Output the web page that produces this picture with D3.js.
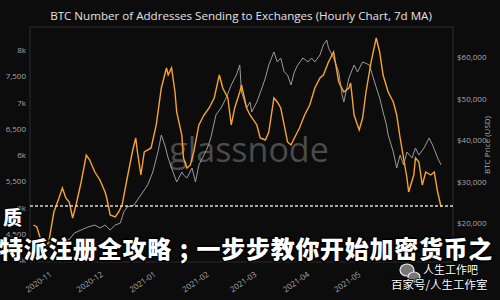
<!DOCTYPE html>
<html>
<head>
<meta charset="utf-8">
<script src="https://cdn.jsdelivr.net/npm/d3@7"></script>
<style>
  body { margin: 0; background: #0c0c0c; }
  svg { display: block; }
  .axis text { fill: #a8a8a8; font-family: "Open Sans", sans-serif; font-size: 8px; }
  .axis path, .axis line { display: none; }
</style>
</head>
<body>
<div id="chart"></div>
<script>
// addresses sending to exchanges (7d MA), left axis
const addrDates = ["2020-10-25","2020-10-27","2020-10-29","2020-11-01","2020-11-03","2020-11-06","2020-11-09","2020-11-11","2020-11-13","2020-11-15","2020-11-17","2020-11-19","2020-11-22","2020-11-25","2020-11-27","2020-11-30","2020-12-03","2020-12-06","2020-12-07","2020-12-09","2020-12-12","2020-12-14","2020-12-16","2020-12-19","2020-12-22","2020-12-24","2020-12-25","2020-12-27","2020-12-29","2021-01-02","2021-01-05","2021-01-08","2021-01-11","2021-01-12","2021-01-14","2021-01-16","2021-01-17","2021-01-20","2021-01-21","2021-01-23","2021-01-25","2021-01-27","2021-01-30","2021-02-02","2021-02-05","2021-02-08","2021-02-11","2021-02-13","2021-02-16","2021-02-18","2021-02-20","2021-02-23","2021-02-24","2021-02-27","2021-03-01","2021-03-05","2021-03-07","2021-03-10","2021-03-12","2021-03-15","2021-03-17","2021-03-19","2021-03-21","2021-03-23","2021-03-25","2021-03-27","2021-03-30","2021-04-02","2021-04-05","2021-04-08","2021-04-11","2021-04-13","2021-04-16","2021-04-19","2021-04-20","2021-04-22","2021-04-25","2021-04-28","2021-04-29","2021-05-01","2021-05-03","2021-05-04","2021-05-06","2021-05-08","2021-05-11","2021-05-14","2021-05-16","2021-05-18","2021-05-21","2021-05-24","2021-05-26","2021-05-28","2021-05-30","2021-06-01","2021-06-02","2021-06-05","2021-06-06","2021-06-08","2021-06-10","2021-06-12","2021-06-15","2021-06-17","2021-06-19","2021-06-21"];
const addrValues = [4667,4629,4419,4248,4343,4914,5181,5372,5181,5105,4800,5048,5486,6000,5905,5676,5524,5295,5181,4857,4819,4914,5048,5562,6057,6324,6057,5619,6057,6134,6572,7277,7658,7524,7658,7200,6819,6381,5943,5752,5810,6057,6572,6762,6896,7086,7524,7277,7086,6572,6896,7200,7334,6896,6762,6572,6324,6286,6438,7086,7010,6896,6572,6248,6191,6324,6515,6762,6953,7277,7467,7524,7772,7962,7772,7391,7200,7277,7372,6762,6572,6476,6705,7200,7772,8229,7962,7524,7200,7010,6762,6324,5943,5562,5295,5619,5943,5867,5429,5676,5619,5676,5295,5010];

// BTC price (USD), right axis
const priceDates = ["2020-10-23","2020-10-27","2020-11-01","2020-11-05","2020-11-08","2020-11-12","2020-11-15","2020-11-18","2020-11-22","2020-11-26","2020-11-30","2020-12-03","2020-12-06","2020-12-09","2020-12-12","2020-12-15","2020-12-17","2020-12-19","2020-12-23","2020-12-27","2020-12-31","2021-01-03","2021-01-06","2021-01-08","2021-01-10","2021-01-12","2021-01-14","2021-01-17","2021-01-20","2021-01-21","2021-01-23","2021-01-26","2021-01-28","2021-01-30","2021-02-02","2021-02-04","2021-02-06","2021-02-09","2021-02-12","2021-02-15","2021-02-18","2021-02-21","2021-02-23","2021-02-24","2021-02-27","2021-03-01","2021-03-02","2021-03-05","2021-03-08","2021-03-10","2021-03-12","2021-03-15","2021-03-17","2021-03-19","2021-03-21","2021-03-23","2021-03-25","2021-03-27","2021-03-29","2021-04-01","2021-04-04","2021-04-06","2021-04-08","2021-04-11","2021-04-13","2021-04-15","2021-04-16","2021-04-19","2021-04-22","2021-04-24","2021-04-25","2021-04-28","2021-05-01","2021-05-03","2021-05-06","2021-05-10","2021-05-13","2021-05-16","2021-05-18","2021-05-20","2021-05-21","2021-05-24","2021-05-26","2021-05-28","2021-05-30","2021-06-01","2021-06-04","2021-06-06","2021-06-08","2021-06-11","2021-06-14","2021-06-16","2021-06-19","2021-06-21"];
const priceValues = [12900,13600,13800,15600,15500,16000,16000,17590,18313,19036,19518,18795,19518,18313,19518,20000,22651,23856,24338,26748,29158,32291,37111,41208,38798,35665,33255,29881,32291,31568,30845,33255,29881,33978,36388,38075,40485,46028,47715,50125,53258,55668,58078,51571,47715,49161,46751,49161,52535,54945,58078,61211,58801,59765,56391,55668,53258,56391,58078,59765,58801,59765,58801,60488,62898,64103,62175,59765,56391,50848,49161,54945,58078,56391,58801,58078,53981,50125,46751,43618,41208,37111,33255,36388,33978,37111,35665,38075,36388,38075,40485,38798,35665,33978];

const leftTicks = [4000, 4500, 5000, 5500, 6000, 6500, 7000, 7500, 8000];
const rightTicks = [20000, 30000, 40000, 50000, 60000];
const monthTicks = ["2020-11-01","2020-12-01","2021-01-01","2021-02-01","2021-03-01","2021-04-01","2021-05-01"];

const titleText = "BTC Number of Addresses Sending to Exchanges (Hourly Chart, 7d MA)";
const rightAxisTitle = "BTC Price (USD)";
const bannerText = "特派注册全攻略;一步步教你开始加密货币之";

const W = 500, H = 300;
const plot = { left: 30, right: 453, top: 27, bottom: 262 };
const parse = d3.timeParse("%Y-%m-%d");

const svg = d3.select("#chart").append("svg")
  .attr("width", W)
  .attr("height", H);

svg.append("rect").attr("width", W).attr("height", H).attr("fill", "#0c0c0c");

const x = d3.scaleTime()
  .domain([parse("2020-10-23"), parse("2021-06-28")])
  .range([plot.left, plot.right]);
const yLeft = d3.scaleLinear().domain([4000, 8000]).range([260, 50]);
const yRight = d3.scaleLinear().domain([20000, 60000]).range([223, 57]);

// frame
svg.append("rect")
  .attr("x", plot.left).attr("y", plot.top)
  .attr("width", plot.right - plot.left).attr("height", plot.bottom - plot.top)
  .attr("fill", "none").attr("stroke", "#2c2c2c");

// title
svg.append("text")
  .attr("x", 241).attr("y", 20)
  .attr("text-anchor", "middle")
  .attr("fill", "#e2e2e2")
  .style("font-family", "'Open Sans', sans-serif")
  .style("font-size", "11.6px")
  .text(titleText);

// axes
svg.append("g")
  .attr("class", "axis")
  .attr("transform", `translate(${plot.left},0)`)
  .call(d3.axisLeft(yLeft).tickValues(leftTicks).tickSize(0).tickPadding(4)
    .tickFormat(v => v % 1000 === 0 ? (v / 1000) + "k" : d3.format(",")(v)));

svg.append("g")
  .attr("class", "axis")
  .attr("transform", `translate(${plot.right},0)`)
  .call(d3.axisRight(yRight).tickValues(rightTicks).tickSize(0).tickPadding(4)
    .tickFormat(d3.format("$,")));

const xAxis = svg.append("g")
  .attr("class", "axis")
  .attr("transform", `translate(0,${plot.bottom})`)
  .call(d3.axisBottom(x).tickValues(monthTicks.map(parse)).tickSize(0).tickPadding(6)
    .tickFormat(d3.timeFormat("%Y-%m")));
xAxis.selectAll("text")
  .attr("text-anchor", "end")
  .attr("transform", "translate(0,4) rotate(-35)")
  .attr("dy", "0.7em");

svg.append("text")
  .attr("transform", "translate(490,145) rotate(-90)")
  .attr("text-anchor", "middle")
  .attr("fill", "#a8a8a8")
  .style("font-family", "'Open Sans', sans-serif")
  .style("font-size", "8px")
  .text(rightAxisTitle);

// watermark
svg.append("text")
  .attr("x", 249).attr("y", 162)
  .attr("text-anchor", "middle")
  .attr("fill", "#575757")
  .attr("fill-opacity", 0.85)
  .style("font-family", "'Open Sans', sans-serif")
  .style("font-size", "34px")
  .text("glassnode");

// lines
const priceData = priceDates.map((d, i) => ({ date: parse(d), value: priceValues[i] }));
const addrData = addrDates.map((d, i) => ({ date: parse(d), value: addrValues[i] }));

svg.append("path")
  .datum(priceData)
  .attr("fill", "none")
  .attr("stroke", "#9a9a9a")
  .attr("stroke-width", 1)
  .attr("d", d3.line().x(d => x(d.date)).y(d => yRight(d.value)));

svg.append("path")
  .datum(addrData)
  .attr("fill", "none")
  .attr("stroke", "#f7a531")
  .attr("stroke-width", 1.4)
  .attr("d", d3.line().x(d => x(d.date)).y(d => yLeft(d.value)));

// dashed line over the picture
svg.append("line")
  .attr("x1", plot.left).attr("x2", plot.right)
  .attr("y1", 206).attr("y2", 206)
  .attr("stroke", "#d8d8d8")
  .attr("stroke-width", 1.3)
  .attr("stroke-dasharray", "3,2");

// overlaid chinese text
const cjk = "'Noto Sans CJK SC', sans-serif";
svg.append("text")
  .attr("x", 3).attr("y", 225)
  .attr("fill", "#fff").attr("stroke", "#000").attr("stroke-width", 2)
  .style("paint-order", "stroke")
  .style("font-family", cjk).style("font-weight", 900).style("font-size", "19px")
  .text("质");

svg.append("g").selectAll("text")
  .data(bannerText.split(""))
  .join("text")
  .attr("x", (c, i) => 11 + i * 24.7)
  .attr("y", 258)
  .attr("text-anchor", "middle")
  .attr("fill", "#fff").attr("stroke", "#000").attr("stroke-width", 3)
  .style("paint-order", "stroke")
  .style("font-family", cjk).style("font-weight", 900).style("font-size", "24px")
  .text(c => c);

// wechat-ish icon + source
const icon = svg.append("g").attr("fill", "#777").attr("stroke", "#eee").attr("stroke-width", 1.2);
icon.append("ellipse").attr("cx", 407).attr("cy", 270).attr("rx", 7).attr("ry", 6);
icon.append("ellipse").attr("cx", 414).attr("cy", 277).attr("rx", 6).attr("ry", 5);

svg.append("text")
  .attr("x", 423).attr("y", 274)
  .attr("fill", "#fff").attr("stroke", "#000").attr("stroke-width", 1.5)
  .style("paint-order", "stroke")
  .style("font-family", cjk).style("font-size", "11px")
  .text("人生工作吧");

svg.append("text")
  .attr("x", 391).attr("y", 289)
  .attr("fill", "#fff").attr("stroke", "#000").attr("stroke-width", 1.5)
  .style("paint-order", "stroke")
  .style("font-family", cjk).style("font-size", "11.5px")
  .text("百家号/人生工作室");
</script>
</body>
</html>
